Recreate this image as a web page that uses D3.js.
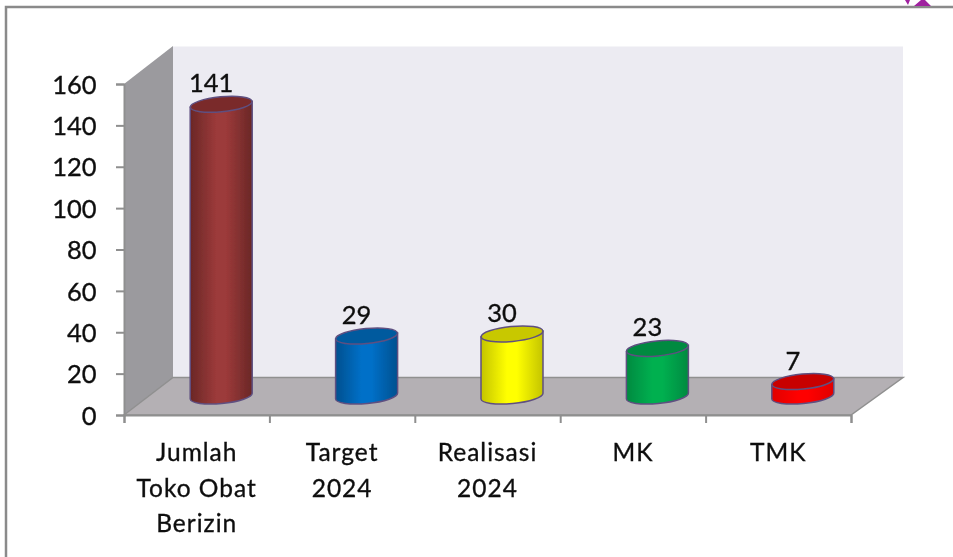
<!DOCTYPE html>
<html><head><meta charset="utf-8">
<script src="https://cdn.jsdelivr.net/npm/d3@7"></script>
<style>html,body{margin:0;padding:0;background:#fff}svg{display:block}text{font-family:Lato,"Open Sans",sans-serif;fill:#111;stroke:#111;stroke-width:0.35px}</style>
</head><body><div id="chart"></div>
<script>
const categories = [["Jumlah","Toko Obat","Berizin"],["Target","2024"],["Realisasi","2024"],["MK"],["TMK"]];
const values = [141,29,30,23,7];
const barColors = ["#9c3a3a","#0070c8","#ffff00","#00b050","#ff0000"];
const topColors = ["#7a2a2a","#005a9e","#c8c800","#008a40","#c80000"];
const sideShade = ["#6a2726","#00508f","#c4c400","#008a40","#e00000"];
const yTicks = [0,20,40,60,80,100,120,140,160];

const W=953,H=557;
const svg=d3.select("#chart").append("svg").attr("width",W).attr("height",H);
const defs=svg.append("defs");
defs.append("filter").attr("id","soft").append("feGaussianBlur").attr("stdDeviation",0.5);

const y=d3.scaleLinear().domain([0,160]).range([415,84]);
const x=d3.scaleBand().domain(d3.range(categories.length)).range([124,851]);
const dx=24.5, dy=-19, rx=31, ry=7.5, tilt=-5.5;

const g=svg.append("g").attr("filter","url(#soft)");
g.append("path").attr("d",`M6,${H}V7H${W}`).attr("fill","none").attr("stroke","#8a8a8a").attr("stroke-width",2.5);
g.append("path").attr("d","M905,0L908,5L910,0ZM914,6L921,0H925L931,6Z").attr("fill","#a020a0");

const x0=x.range()[0],x1=x.range()[1],y0=y(0),yT=y(160),ox=49,oy=-37.5;
g.append("path").attr("d",`M${x0},${yT}L${x0+ox},${yT+oy-0.5}V${y0+oy}L${x0},${y0}Z`).attr("fill","#9b9a9e");
g.append("path").attr("d",`M${x0+ox},${yT+oy}H${x1+52}V${y0+oy}H${x0+ox}Z`).attr("fill","#ecebf2");
g.append("path").attr("d",`M${x0},${y0}L${x0+ox},${y0+oy}H${x1+52}L${x1},${y0}Z`).attr("fill","#b4b0b4").attr("stroke","#909090").attr("stroke-width",1.5);

const axL=g.append("g").attr("transform",`translate(${x0},0)`)
  .call(d3.axisLeft(y).tickValues(yTicks).tickSize(8).tickPadding(18));
const axB=g.append("g").attr("transform",`translate(0,${y0})`)
  .call(d3.axisBottom(d3.scaleLinear().domain([0,categories.length]).range([x0,x1])).ticks(categories.length).tickSize(8).tickFormat(""));
[axL,axB].forEach(a=>{a.selectAll("path.domain,line").attr("stroke","#8f8f8f").attr("stroke-width",2);});
axL.selectAll("text").attr("font-size",25.5).style("font-family","Lato").attr("dy","0.36em").attr("x",-27.5);

categories.forEach((lines,i)=>{
  const t=g.append("text").attr("text-anchor","middle").attr("font-size",24.5).style("letter-spacing","1px");
  lines.forEach((s,j)=>t.append("tspan").attr("x",x(i)+x.bandwidth()/2).attr("y",461+j*35.5).text(s));
});

values.forEach((v,i)=>{
  const gr=defs.append("linearGradient").attr("id","cyl"+i);
  [[0,sideShade[i]],[0.42,barColors[i]],[0.58,barColors[i]],[1,sideShade[i]]].forEach(s=>gr.append("stop").attr("offset",s[0]).attr("stop-color",s[1]));
});

const t=Math.tan(tilt*Math.PI/180);
const bars=g.selectAll("g.bar").data(values).join("g").attr("class","bar");
bars.each(function(v,i){
  const cx=x(i)+x.bandwidth()/2+dx, yb=y(0)+dy, yt=y(v)+dy, s=d3.select(this);
  const lx=cx-rx, rxp=cx+rx, d=rx*t*-1;
  s.append("path").attr("d",`M${lx},${yt+d}L${lx},${yb+d}A${rx},${ry} ${tilt} 0 0 ${rxp},${yb-d}L${rxp},${yt-d}Z`)
    .attr("fill",`url(#cyl${i})`).attr("stroke","#5f4f80").attr("stroke-width",1.5);
  s.append("ellipse").attr("rx",rx).attr("ry",ry).attr("transform",`translate(${cx},${yt}) rotate(${tilt})`)
    .attr("fill",topColors[i]).attr("stroke","#5f4f80").attr("stroke-width",1.5);
  s.append("text").attr("x",cx-10).attr("y",yt-12).attr("text-anchor","middle").attr("font-size",25.5).text(v);
});
</script></body></html>
